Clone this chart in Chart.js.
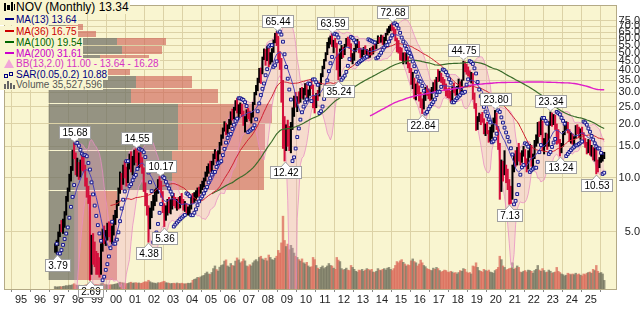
<!DOCTYPE html>
<html>
<head>
<meta charset="utf-8">
<script src="https://cdn.jsdelivr.net/npm/chart.js@4.4.1/dist/chart.umd.min.js"></script>
<style>
html,body{margin:0;padding:0;background:#fff;}
#wrap{position:relative;width:644px;height:312px;overflow:hidden;}
#c{position:absolute;left:0;top:0;}
.lg{position:absolute;left:0;height:11px;line-height:11px;font-family:"Liberation Sans",Arial,Helvetica,sans-serif;font-size:10px;white-space:nowrap;background:#f9f5d0;padding:0 1px 0 0;}
.ic{display:inline-block;position:relative;width:13px;height:11px;vertical-align:top;margin-left:3px;}
.ln{position:absolute;left:2px;top:4px;width:9px;height:2px;}
</style>
</head>
<body>
<div id="wrap">
<canvas id="c" width="644" height="312"></canvas>
<div id="legend"></div>
</div>
<script>
// ---------------- DATA (monthly, Oct 1996 .. Sep 2025) ----------------
const startYear = 1996, startMonth = 10;

const highs = [
4.30,4.50,5.00,
5.5,5.8,5.9,6.5,7.9,8.8,10.5,11.6,14.3,15.68,13.8,12.9,
12.2,12.6,13.4,13.2,11.8,10.0,9.0,8.0,4.8,4.9,4.4,3.9,
3.8,3.6,4.3,5.2,5.4,5.1,5.6,5.7,5.6,5.4,6.2,6.6,
7.5,8.8,10.8,10.6,11.8,12.4,11.5,12.0,13.6,14.0,13.2,14.3,
14.55,14.2,13.8,13.9,13.0,11.4,9.4,8.2,7.0,6.8,7.4,8.0,
8.6,8.8,9.8,10.17,9.6,8.4,7.2,7.0,7.6,7.8,7.6,8.0,
8.2,7.8,7.6,7.8,7.9,8.2,7.6,7.4,7.2,6.9,7.1,7.9,
8.2,8.3,8.5,8.8,8.9,9.2,9.6,10.0,10.8,11.6,12.0,12.4,
12.4,13.6,14.4,14.0,14.2,15.8,17.4,19.0,20.6,20.2,19.8,21.2,
23.4,24.2,24.8,27.0,27.8,25.6,26.2,25.8,23.6,22.0,24.0,24.4,
23.6,23.0,26.4,30.0,32.8,36.0,40.8,41.0,47.2,52.4,52.0,54.0,
55.0,50.0,52.6,58.8,64.0,65.44,61.6,50.6,46.4,35.0,22.0,19.8,
21.0,19.4,20.4,24.6,28.6,30.0,28.4,30.2,31.6,32.0,31.6,33.6,
33.4,31.0,33.4,35.4,33.0,28.8,29.6,30.8,33.8,38.2,42.0,45.8,
50.0,57.0,60.4,61.8,63.59,58.6,60.0,56.4,49.0,52.4,54.8,53.6,
55.6,60.0,61.0,59.4,56.0,49.4,52.8,56.4,59.2,57.6,53.0,51.8,
53.4,54.6,52.0,51.6,52.8,53.6,54.4,56.8,58.0,62.0,60.8,62.6,
62.0,60.8,64.0,67.8,70.0,71.4,72.68,69.0,67.4,60.2,58.4,53.6,
53.0,49.8,50.0,49.6,47.4,43.6,40.8,38.8,36.0,33.4,34.4,32.6,
30.0,27.6,29.4,32.0,32.6,31.4,31.0,32.0,34.0,35.2,36.4,40.2,
39.4,38.4,36.4,35.4,33.4,31.4,31.8,30.4,32.6,33.8,32.0,32.4,
35.6,34.4,35.2,44.75,44.4,43.2,41.6,39.6,38.8,38.2,29.8,26.0,
22.0,23.0,22.6,23.2,21.4,20.0,20.4,18.4,19.2,19.8,21.6,23.80,
23.0,19.4,15.6,12.6,12.4,14.2,11.8,11.2,9.8,9.0,11.8,13.6,
14.2,14.8,15.6,13.8,14.2,15.0,14.4,12.8,14.2,15.4,15.2,13.6,
16.2,17.4,20.4,20.6,21.6,20.8,16.6,17.8,17.6,20.6,23.34,23.0,
22.6,22.4,20.0,18.6,16.4,15.6,18.2,19.8,20.6,20.4,18.6,17.8,
17.6,17.0,19.6,19.8,19.2,18.8,19.2,17.9,16.6,15.8,16.4,16.2,
15.2,14.8,14.6,14.6,12.6,13.0,13.4,13.8,13.9
];

const lows = [
3.85,3.79,4.20,
4.7,5.0,4.9,5.3,6.2,7.4,8.4,9.6,11.0,12.8,10.4,10.2,
9.8,10.1,11.0,10.8,9.0,7.8,7.2,2.69,2.9,3.3,3.2,2.9,
2.9,2.8,2.9,3.9,4.3,4.2,4.5,4.7,4.4,4.3,4.8,5.5,
6.0,7.0,8.2,8.6,9.2,10.0,9.0,9.4,11.2,10.8,10.4,11.8,
12.2,11.6,11.4,11.5,10.6,8.4,7.0,6.2,4.38,5.2,6.0,6.6,
7.0,7.4,8.2,8.6,7.8,6.4,5.36,5.8,6.2,6.4,6.3,6.7,
7.0,6.8,6.6,6.7,6.8,7.1,6.6,6.5,6.3,6.2,6.2,6.7,
7.2,7.3,7.5,7.8,7.9,8.2,8.6,8.9,9.6,10.2,10.6,10.9,
10.8,11.8,12.8,12.2,12.4,13.6,15.2,16.6,18.2,17.4,17.6,18.8,
19.8,21.0,21.4,23.8,23.0,21.6,22.8,22.0,19.6,18.0,20.6,21.4,
20.8,20.2,21.8,25.6,29.0,30.6,34.0,33.6,38.0,45.6,42.4,45.0,
41.6,43.0,44.2,50.0,56.6,54.6,44.0,40.2,26.4,14.6,12.42,14.2,
15.0,14.2,13.8,18.6,22.0,24.8,23.4,26.0,26.4,27.8,27.4,29.0,
27.6,26.8,28.8,31.4,24.6,23.0,24.6,27.0,28.6,33.2,36.6,40.6,
44.8,48.6,53.0,55.6,54.0,49.8,53.4,40.0,35.24,36.8,46.2,47.0,
48.6,54.0,54.4,52.6,44.6,43.2,45.2,50.4,53.0,49.8,46.8,47.0,
48.6,49.0,47.8,46.4,47.0,48.4,49.0,52.0,52.6,56.0,56.4,57.0,
55.4,55.0,58.2,62.6,64.4,66.0,66.4,63.0,58.0,50.4,49.6,45.4,
45.0,43.2,44.6,43.2,41.0,38.6,33.2,31.4,27.6,27.2,29.4,26.8,
24.6,22.84,24.2,27.0,28.8,27.6,27.0,27.4,29.8,30.6,30.2,34.4,
34.6,34.0,32.6,30.6,28.6,28.0,27.8,26.4,27.2,29.8,28.8,29.0,
31.4,29.8,30.2,35.0,39.0,37.8,37.0,34.4,33.8,27.4,24.4,18.4,
18.6,20.6,19.8,20.4,17.6,17.2,17.6,15.8,16.0,16.6,18.0,20.2,
18.6,14.4,7.6,8.4,9.6,10.4,9.4,8.6,7.13,7.2,7.6,10.8,
11.6,11.8,12.4,11.8,12.2,13.2,11.6,10.8,11.2,13.0,11.6,11.4,
12.8,15.0,15.6,17.0,17.4,14.2,13.6,15.0,14.4,15.0,19.6,19.4,
19.8,18.6,15.4,15.6,13.24,13.8,15.0,17.4,18.4,17.8,16.0,15.6,
15.4,15.2,16.6,17.6,16.8,16.4,17.4,15.6,14.8,13.6,13.8,13.4,
13.2,12.6,12.4,10.53,10.8,11.4,12.2,12.4,12.8
];

const closes = [
4.10,4.35,4.90,
5.3,5.2,5.6,6.3,7.7,8.6,10.2,11.2,14.0,13.5,11.2,11.8,
10.5,12.2,12.0,11.5,9.4,8.2,7.6,3.2,4.2,3.9,3.5,3.3,
3.2,3.0,4.1,4.9,4.6,4.8,5.2,5.0,4.7,4.9,6.0,6.4,
7.2,8.5,10.2,9.4,11.4,11.0,9.6,11.6,13.2,11.6,12.8,14.0,
13.4,12.6,13.0,12.4,11.0,8.8,7.6,6.6,5.4,6.5,6.9,7.7,
8.2,8.5,9.6,9.0,8.0,6.9,6.2,6.6,7.2,7.0,7.2,7.6,
7.3,7.0,7.4,7.0,7.7,7.5,6.9,7.0,6.5,6.6,6.8,7.8,
7.6,8.0,8.2,8.6,8.4,9.0,9.4,9.8,10.6,10.9,11.8,11.3,
12.0,13.4,13.6,12.8,13.8,15.4,17.0,18.6,20.0,18.2,19.4,19.8,
23.0,22.0,24.4,26.4,24.0,24.6,25.0,22.8,21.0,21.2,23.4,22.8,
21.6,22.4,26.0,29.6,32.2,35.4,40.2,38.6,46.8,49.6,47.0,52.4,
45.0,48.6,51.2,58.0,62.4,61.0,46.0,45.8,34.8,20.0,17.6,17.8,
16.8,15.2,19.8,22.8,27.4,25.6,27.8,27.6,29.2,29.0,29.6,30.4,
28.4,29.4,32.8,31.8,26.4,26.0,29.2,28.4,33.4,37.8,41.2,45.4,
49.0,56.2,57.8,60.8,56.0,56.4,55.8,45.4,39.2,51.4,52.0,49.6,
55.0,58.6,56.2,55.6,46.4,46.8,52.0,54.2,55.4,50.6,49.0,49.4,
52.8,49.8,50.8,47.4,52.2,49.6,54.0,53.0,56.8,59.6,58.2,61.4,
56.4,59.4,63.6,66.8,68.6,70.6,67.6,66.2,59.6,57.0,52.0,51.8,
45.6,47.6,45.0,46.2,42.0,40.4,34.0,35.6,28.6,31.8,30.4,28.8,
25.8,25.4,28.8,31.4,30.6,30.4,28.8,31.2,33.0,31.4,35.8,35.4,
36.0,35.6,33.8,31.0,30.4,29.4,29.2,27.6,32.0,30.6,30.0,32.0,
33.2,31.0,34.8,41.4,40.6,40.0,38.4,35.6,37.6,28.6,25.4,20.0,
21.6,22.0,21.2,20.8,18.2,19.2,18.0,16.6,17.8,18.6,20.8,22.6,
18.9,15.2,9.1,11.2,10.6,11.2,9.8,9.0,8.2,7.8,11.4,12.6,
12.0,14.2,12.9,12.6,13.8,14.2,11.9,11.6,13.6,14.4,12.0,12.8,
15.8,16.2,18.8,17.6,20.6,15.0,15.6,15.8,15.2,20.2,22.4,20.4,
21.8,19.6,17.6,15.9,14.4,15.2,18.0,19.4,19.6,18.2,16.4,17.0,
15.8,16.8,19.2,18.0,17.4,18.4,17.8,16.4,15.4,14.2,15.4,13.8,
14.4,13.0,14.4,11.8,11.6,12.4,12.6,13.2,13.34
];

// monthly volume, millions of shares
const volumes = [
10,8,9,
10,9,11,12,14,13,16,15,18,22,17,15,
16,14,15,14,16,18,20,26,24,20,18,19,
18,17,22,24,20,18,17,16,18,17,19,20,
22,24,28,26,25,24,22,23,26,28,24,25,
26,24,25,23,24,28,30,29,36,30,26,25,
24,22,26,25,27,30,32,26,25,24,22,23,
24,22,25,23,22,24,22,21,22,24,23,25,
36,40,42,48,46,50,54,56,64,70,62,60,
68,84,95,80,74,90,97,100,115,120,95,90,
105,97,95,115,128,120,108,113,124,116,95,92,
100,95,108,116,121,113,130,135,124,119,127,116,
140,130,121,119,127,135,159,148,190,300,200,175,
185,162,180,168,148,135,130,121,115,124,108,103,
110,95,89,92,130,121,97,86,81,89,95,84,
89,95,105,97,95,86,81,130,119,113,84,78,
81,86,78,76,97,89,81,73,70,78,76,81,
73,78,84,81,76,81,70,68,73,84,78,76,
81,84,78,86,89,81,76,84,97,113,108,116,
121,110,103,95,100,97,116,124,113,108,95,103,
119,108,97,92,84,81,78,76,86,81,89,84,
76,70,73,78,76,70,68,73,70,65,68,62,
68,76,73,84,81,70,65,68,62,95,92,108,
89,76,73,70,81,76,73,78,70,68,65,76,
81,89,135,121,95,89,78,81,84,86,108,81,
86,95,89,70,68,73,76,70,78,76,73,65,
76,81,97,78,73,84,76,68,70,78,73,65,
68,70,89,73,68,62,59,54,57,65,62,59,
62,59,65,59,62,57,54,62,59,65,68,70,
65,81,76,97,73,65,68,62,35.5
];

// volume-by-price, 12 equal price zones from lowest low to highest high (bottom zone first),
// up-volume and down-volume per zone, millions of shares
const vbpUp   = [340,1440,1510,1510,970,1020,500,600,860,800,300,200];
const vbpDown = [460,1080,1020,1100,1010,660,450,570,470,570,250,200];

// swing-point labels shown on the chart (value, H = high / L = low)
const annValues = [3.79,15.68,2.69,14.55,4.38,10.17,5.36,65.44,12.42,63.59,35.24,72.68,22.84,44.75,23.80,7.13,23.34,13.24,10.53];
const annKinds  = ['L','H','L','H','L','H','L','H','L','H','L','H','L','H','H','L','H','L','L'];

const yearTicks  = [1995,1996,1997,1998,1999,2000,2001,2002,2003,2004,2005,2006,2007,2008,2009,2010,2011,2012,2013,2014,2015,2016,2017,2018,2019,2020,2021,2022,2023,2024,2025];
const priceTicks = [5,10,15,20,25,30,35,40,45,50,55,60,65,70,75];

// ---------------- INDICATORS (computed from the data) ----------------
const times = closes.map((_, i) => startYear + (startMonth - 1 + i + 0.5) / 12);

function sma(arr, n) {
  return arr.map((_, i) => {
    if (i < n - 1) return null;
    let s = 0; for (let k = i - n + 1; k <= i; k++) s += arr[k];
    return s / n;
  });
}
function bands(arr, n, m) {
  const up = [], lo = [];
  arr.forEach((_, i) => {
    if (i < n - 1) { up.push(null); lo.push(null); return; }
    let s = 0; for (let k = i - n + 1; k <= i; k++) s += arr[k];
    const mean = s / n; let v = 0;
    for (let k = i - n + 1; k <= i; k++) v += (arr[k] - mean) ** 2;
    const sd = Math.sqrt(v / n);
    up.push(mean + m * sd); lo.push(Math.max(mean - m * sd, 0.05));
  });
  return [up, lo];
}
function psar(h, l, step, maxAf) {
  const out = new Array(h.length).fill(null);
  let upTrend = true, af = step, ep = h[0], s = l[0];
  for (let i = 1; i < h.length; i++) {
    s = s + af * (ep - s);
    if (upTrend) {
      s = Math.min(s, l[i - 1], l[Math.max(i - 2, 0)]);
      if (l[i] < s) { upTrend = false; s = ep; ep = l[i]; af = step; }
      else if (h[i] > ep) { ep = h[i]; af = Math.min(af + step, maxAf); }
    } else {
      s = Math.max(s, h[i - 1], h[Math.max(i - 2, 0)]);
      if (h[i] > s) { upTrend = true; s = ep; ep = h[i]; af = step; }
      else if (l[i] < ep) { ep = l[i]; af = Math.min(af + step, maxAf); }
    }
    out[i] = s;
  }
  return out;
}
const pts = arr => arr.map((v, i) => v == null ? null : { x: times[i], y: v }).filter(p => p);

const ma13 = sma(closes, 13), ma36 = sma(closes, 36), ma100 = sma(closes, 100), ma200 = sma(closes, 200);
const [bbU, bbL] = bands(closes, 13, 2);
const sar = psar(highs, lows, 0.05, 0.2);
const isUp = closes.map((c, i) => i === 0 || c >= closes[i - 1]);

const nZones = vbpUp.length;
const pMin = Math.min(...lows), pMax = Math.max(...highs);
const zW = (pMax - pMin) / nZones;
const zoneEdges = Array.from({ length: nZones + 1 }, (_, k) => pMin + k * zW);
const vbpMaxTotal = Math.max(...vbpUp.map((u, z) => u + vbpDown[z]));

// ---------------- STYLE ----------------
const FONT = '"Liberation Sans", Arial, Helvetica, sans-serif';
const PLOT_BG = '#f9f5d0';
const GRID = '#dcd2a6';
const UP_BAR = '#000000', DN_BAR = '#d4103c';
const VOL_UP = 'rgba(110,110,90,0.72)', VOL_DN = 'rgba(218,100,85,0.72)';
const VBP_UP = 'rgba(110,110,100,0.72)', VBP_DN = 'rgba(205,95,85,0.62)';
const BB_LINE = 'rgba(232,140,196,0.75)', BB_FILL = 'rgba(240,160,200,0.30)';

const xMin = 1994.671, xMax = 2025.81;
const yMin = 2.405, yMax = 92.0;

// ---------------- PLUGINS ----------------
const bgPlugin = {
  id: 'bg',
  beforeDraw(chart) {
    const { ctx, chartArea: a } = chart;
    ctx.save();
    ctx.fillStyle = '#ffffff'; ctx.fillRect(0, 0, chart.width, chart.height);
    ctx.fillStyle = PLOT_BG; ctx.fillRect(a.left, a.top, a.right - a.left, a.bottom - a.top);
    ctx.restore();
  },
  afterDraw(chart) {
    const { ctx, chartArea: a } = chart;
    ctx.save(); ctx.strokeStyle = '#b4aa86'; ctx.lineWidth = 1;
    ctx.strokeRect(a.left - 0.5, a.top + 0.5, a.right - a.left + 1, a.bottom - a.top);
    ctx.restore();
  }
};

const vbpPlugin = {
  id: 'vbp',
  beforeDatasetsDraw(chart) {
    const { ctx, chartArea: a, scales } = chart;
    const y = scales.y, xv = scales.xv;
    ctx.save();
    ctx.beginPath(); ctx.rect(a.left, a.top, a.right - a.left, a.bottom - a.top); ctx.clip();
    for (let z = 0; z < nZones; z++) {
      const yTop = Math.round(y.getPixelForValue(zoneEdges[z + 1]));
      const yBot = Math.round(y.getPixelForValue(zoneEdges[z]));
      const x0 = xv.getPixelForValue(0);
      const x1 = Math.round(xv.getPixelForValue(vbpUp[z]));
      const x2 = Math.round(xv.getPixelForValue(vbpUp[z] + vbpDown[z]));
      ctx.fillStyle = VBP_UP; ctx.fillRect(x0, yTop + 1, x1 - x0, yBot - yTop - 1);
      ctx.fillStyle = VBP_DN; ctx.fillRect(x1, yTop + 1, x2 - x1, yBot - yTop - 1);
    }
    ctx.restore();
  }
};

const annPlugin = {
  id: 'ann',
  afterDatasetsDraw(chart) {
    const { ctx, chartArea: a, scales } = chart;
    const x = scales.x, y = scales.y;
    ctx.save();
    ctx.font = '10px ' + FONT;
    ctx.textAlign = 'center'; ctx.textBaseline = 'middle';
    annValues.forEach((v, k) => {
      const kind = annKinds[k];
      const i = (kind === 'H' ? highs : lows).indexOf(v);
      if (i < 0) return;
      const px = Math.round(x.getPixelForValue(times[i]));
      const py = Math.round(y.getPixelForValue(v));
      const txt = v.toFixed(2);
      const w = Math.ceil(ctx.measureText(txt).width) + 5, h = 12;
      let bx = Math.round(px - w / 2);
      bx = Math.max(a.left + 1, Math.min(a.right - 2 - w, bx));
      const by = kind === 'H' ? py - 5 - h : py + 5;
      ctx.lineWidth = 1; ctx.strokeStyle = '#a0a0a0'; ctx.fillStyle = '#ffffff';
      ctx.beginPath();
      if (kind === 'H') { ctx.moveTo(px - 4, by + h); ctx.lineTo(px + 0.5, py - 1); ctx.lineTo(px + 5, by + h); }
      else { ctx.moveTo(px - 4, by + 1); ctx.lineTo(px + 0.5, py + 1); ctx.lineTo(px + 5, by + 1); }
      ctx.closePath(); ctx.fill(); ctx.stroke();
      ctx.fillRect(bx + 0.5, by + 0.5, w, h);
      ctx.strokeRect(bx + 0.5, by + 0.5, w, h);
      if (kind === 'H') { ctx.fillRect(px - 3, by + h - 0.5, 7, 2); }
      else { ctx.fillRect(px - 3, by, 7, 1.5); }
      ctx.fillStyle = '#000';
      ctx.fillText(txt, bx + w / 2 + 0.5, by + h / 2 + 1);
    });
    ctx.restore();
  }
};

// ---------------- CHART ----------------
const line = (data, color, width, order) => ({
  type: 'line', data: pts(data), borderColor: color, borderWidth: width,
  pointRadius: 0, fill: false, tension: 0, order, xAxisID: 'x', yAxisID: 'y'
});

new Chart(document.getElementById('c'), {
  type: 'bar',
  data: {
    datasets: [
      { type: 'bar', data: volumes.map((v, i) => ({ x: times[i], y: v })), xAxisID: 'x', yAxisID: 'yv',
        backgroundColor: isUp.map(u => u ? VOL_UP : VOL_DN), barThickness: 1.8, grouped: false, order: 20 },
      { type: 'line', data: pts(bbU), borderColor: BB_LINE, borderWidth: 1, pointRadius: 0, fill: false, order: 15, xAxisID: 'x', yAxisID: 'y' },
      { type: 'line', data: pts(bbL), borderColor: BB_LINE, borderWidth: 1, pointRadius: 0, fill: '-1', backgroundColor: BB_FILL, order: 15, xAxisID: 'x', yAxisID: 'y' },
      { type: 'bar', data: highs.map((h, i) => ({ x: times[i], y: [lows[i], h] })), xAxisID: 'x', yAxisID: 'y',
        backgroundColor: isUp.map(u => u ? UP_BAR : DN_BAR), barThickness: 1.4, grouped: false, order: 12 },
      line(ma200, '#e020c8', 1.4, 9),
      line(ma100, '#3a6b2a', 1.2, 8),
      line(ma36, '#d02030', 1, 7),
      line(ma13, '#4a40b8', 1, 6),
      { type: 'line', data: pts(sar), showLine: false, pointStyle: 'rect', pointRadius: 2.0,
        pointBorderWidth: 1, pointBorderColor: '#16168a', pointBackgroundColor: '#eaeaff', order: 1, xAxisID: 'x', yAxisID: 'y' }
    ]
  },
  options: {
    responsive: false, animation: false, devicePixelRatio: 1,
    layout: { padding: { left: 1, right: 4, top: 0, bottom: 0 } },
    plugins: { legend: { display: false }, tooltip: { enabled: false } },
    scales: {
      x: {
        type: 'linear', min: xMin, max: xMax, position: 'bottom',
        grid: { color: GRID, tickLength: 3, tickColor: '#888', drawTicks: true },
        border: { display: false },
        ticks: { font: { family: FONT, size: 11 }, color: '#222', padding: 1, maxRotation: 0, autoSkip: false,
                 callback: v => String(v).slice(-2) },
        afterBuildTicks: s => { s.ticks = yearTicks.map(v => ({ value: v })); },
        afterFit: s => { s.height = 23; s.paddingLeft = 0; s.paddingRight = 0; }
      },
      y: {
        type: 'logarithmic', position: 'right', min: yMin, max: yMax,
        grid: { color: GRID, drawTicks: false },
        border: { display: false },
        ticks: { font: { family: FONT, size: 11 }, color: '#222', padding: 2, crossAlign: 'far', autoSkip: false,
                 callback: v => Number(v).toFixed(1) },
        afterBuildTicks: s => { s.ticks = priceTicks.map(v => ({ value: v })); },
        afterFit: s => { s.width = 24; s.paddingTop = 0; s.paddingBottom = 0; }
      },
      yv: { type: 'linear', position: 'left', display: false, min: 0, max: Math.max(...volumes) * 3.9 },
      xv: { type: 'linear', axis: 'x', position: 'top', display: false, min: 0, max: vbpMaxTotal * 2.35 }
    }
  },
  plugins: [bgPlugin, vbpPlugin, annPlugin]
});

// ---------------- LEGEND (HTML text) ----------------
const legendRows = [
  { top: 0,  h: 14, size: 12, color: '#000', text: 'NOV (Monthly) 13.34', icon: 'title' },
  { top: 14, color: '#000080', text: 'MA(13) 13.64', icon: 'line', ic: '#000080' },
  { top: 25.5, color: '#cc0000', text: 'MA(36) 16.75', icon: 'line', ic: '#cc0000' },
  { top: 36.5, color: '#006600', text: 'MA(100) 19.54', icon: 'line', ic: '#006600' },
  { top: 47.5, color: '#cc00cc', text: 'MA(200) 31.61', icon: 'line', ic: '#cc00cc' },
  { top: 58, color: '#d633c4', text: 'BB(13,2.0) 11.00 - 13.64 - 16.28', icon: 'bb' },
  { top: 68.5, color: '#000080', text: 'SAR(0.05,0.2) 10.88', icon: 'sar' },
  { top: 79, color: '#555555', text: 'Volume 35,527,596', icon: 'vol' }
];
const lg = document.getElementById('legend');
legendRows.forEach(r => {
  const d = document.createElement('div');
  d.className = 'lg';
  d.style.top = r.top + 'px';
  if (r.h) { d.style.height = r.h + 'px'; d.style.lineHeight = r.h + 'px'; }
  if (r.size) d.style.fontSize = r.size + 'px';
  d.style.color = r.color;
  const ic = document.createElement('span');
  ic.className = 'ic';
  if (r.h) ic.style.height = r.h + 'px';
  if (r.icon === 'line') {
    ic.innerHTML = '<span class="ln" style="background:' + r.ic + '"></span>';
  } else if (r.icon === 'title') {
    ic.innerHTML = '<span style="position:absolute;left:1px;top:3px;width:2px;height:8px;background:#000"></span>' +
      '<span style="position:absolute;left:4px;top:5px;width:3px;height:5px;background:#000"></span>' +
      '<span style="position:absolute;left:8px;top:2px;width:2px;height:9px;background:#000"></span>' +
      '<span style="position:absolute;left:11px;top:4px;width:1px;height:6px;background:#000"></span>';
  } else if (r.icon === 'bb') {
    ic.innerHTML = '<span style="position:absolute;left:1px;top:1px;width:0;height:0;border-left:5px solid transparent;border-right:5px solid transparent;border-bottom:9px solid #f2a6d8"></span>';
  } else if (r.icon === 'sar') {
    ic.innerHTML = '<span style="position:absolute;left:1px;top:5px;width:2px;height:2px;border:1px solid #000080"></span>' +
      '<span style="position:absolute;left:6px;top:3px;width:2px;height:2px;border:1px solid #000080"></span>';
  } else if (r.icon === 'vol') {
    ic.innerHTML = '<span style="position:absolute;left:1px;top:5px;width:2px;height:5px;background:#666"></span>' +
      '<span style="position:absolute;left:4px;top:2px;width:2px;height:8px;background:#666"></span>' +
      '<span style="position:absolute;left:7px;top:4px;width:2px;height:6px;background:#666"></span>' +
      '<span style="position:absolute;left:10px;top:6px;width:2px;height:4px;background:#666"></span>';
  }
  d.appendChild(ic);
  d.appendChild(document.createTextNode(r.text));
  lg.appendChild(d);
});
</script>
</body>
</html>
